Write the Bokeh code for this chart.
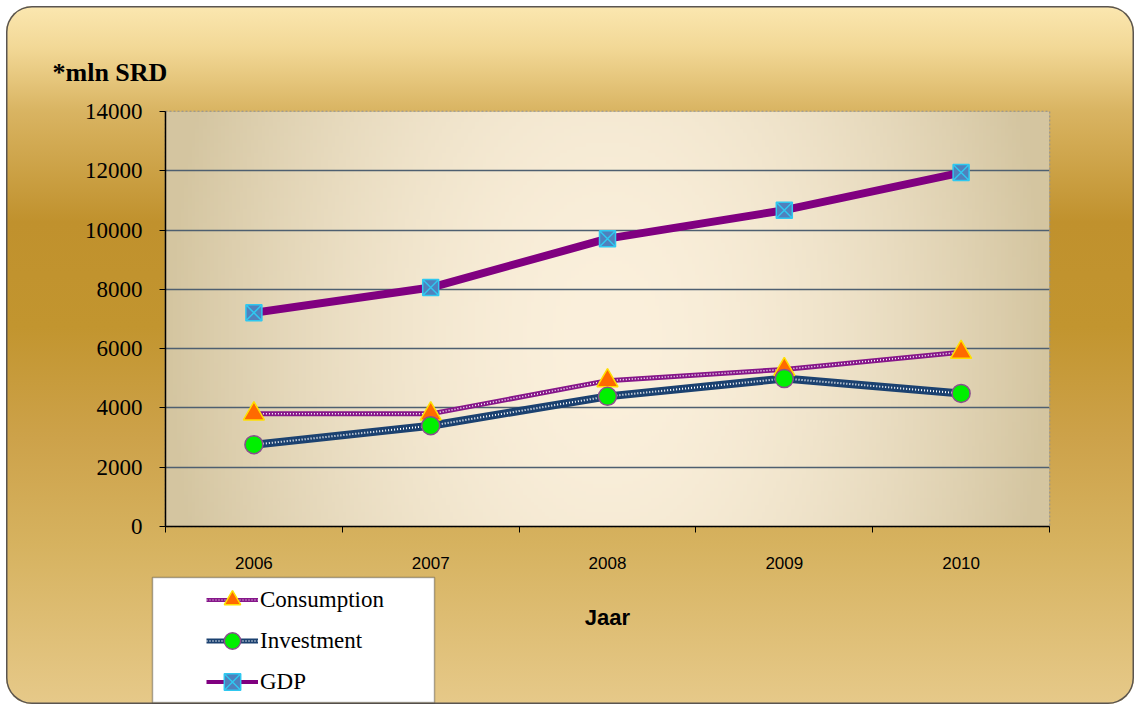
import numpy as np
from bokeh.plotting import figure
from bokeh.layouts import column
from bokeh.models import (FixedTicker, Legend, LegendItem, Label, BoxAnnotation, Title)
from bokeh.embed import file_html
from bokeh.resources import INLINE

years = ["2006", "2007", "2008", "2009", "2010"]
consumption = [3800, 3800, 4920, 5300, 5880]
investment = [2760, 3400, 4390, 4990, 4490]
gdp = [7210, 8060, 9710, 10670, 11940]
y_ticks = [0, 2000, 4000, 6000, 8000, 10000, 12000, 14000]

xs = list(range(len(years)))

W = 1128
H_MAIN, H_BOT = 569, 129

p = figure(width=W, height=H_MAIN, x_range=(-0.5, 4.5), y_range=(0, 14000),
           output_backend="svg", toolbar_location=None, title=None,
           min_border_left=159, min_border_right=85, min_border_top=105,
           min_border_bottom=49)
p.frame_align = False
p.border_fill_alpha = 0
p.background_fill_alpha = 0
p.outline_line_color = "#8c8c8c"
p.outline_line_dash = "2 2"
p.outline_line_width = 1.5

# plot area gradient background
gw, gh = 240, 120
u = np.linspace(0, 1, gw)[None, :]
v = np.linspace(0, 1, gh)[:, None]
t = np.sqrt(((u - 0.5) / 0.5) ** 2 * 1.0 + ((v - 0.45) / 0.55) ** 2 * 0.12)
t = np.clip(t, 0, 1) ** 1.8
center = np.array([251, 240, 220])
edge = np.array([212, 197, 160])
col = center[None, None, :] + (edge - center)[None, None, :] * t[:, :, None]
img = np.empty((gh, gw, 4), dtype=np.uint8)
img[:, :, :3] = np.clip(col, 0, 255).astype(np.uint8)
img[:, :, 3] = 255
p.image_rgba(image=[img.view(np.uint32).reshape(gh, gw)], x=-0.5, y=0, dw=5, dh=14000, level="image")

# grid
p.xgrid.visible = False
p.ygrid.ticker = FixedTicker(ticks=y_ticks)
p.ygrid.grid_line_color = "#4E5F70"
p.ygrid.grid_line_width = 1.5

# axes
p.yaxis.ticker = FixedTicker(ticks=y_ticks)
p.yaxis.axis_line_color = "black"
p.yaxis.axis_line_width = 1.5
p.yaxis.major_tick_out = 6
p.yaxis.major_tick_in = 0
p.yaxis.minor_tick_line_color = None
p.yaxis.major_tick_line_color = "black"
p.yaxis.major_label_text_font = "Liberation Serif"
p.yaxis.major_label_text_font_size = "23px"
p.yaxis.major_label_text_color = "black"
p.yaxis.major_label_standoff = 17

p.xaxis.ticker = FixedTicker(ticks=xs, minor_ticks=[i - 0.5 for i in range(len(years) + 1)])
p.xaxis.major_label_overrides = {i: y for i, y in enumerate(years)}
p.xaxis.axis_line_color = "black"
p.xaxis.axis_line_width = 1.5
p.xaxis.major_tick_out = 0
p.xaxis.major_tick_in = 0
p.xaxis.minor_tick_out = 6
p.xaxis.minor_tick_in = 0
p.xaxis.minor_tick_line_color = "black"
p.xaxis.major_label_text_font = "Liberation Sans"
p.xaxis.major_label_text_font_size = "17px"
p.xaxis.major_label_text_color = "black"
p.xaxis.major_label_standoff = 24

# "*mln SRD" unit title
p.add_layout(Title(text="*mln SRD", align="left", offset=-113, standoff=50,
                   text_font="Liberation Serif", text_font_size="26px",
                   text_font_style="bold", text_color="black"), "above")

# series
line_styles = dict(
    c=dict(line_color="#86168A", line_width=5),
    cd=dict(line_color="white", line_width=1.5, line_dash="1 2"),
    i=dict(line_color="#1B4170", line_width=8),
    idot=dict(line_color="white", line_width=2, line_dash="1 2"),
    g=dict(line_color="#800080", line_width=8),
)
mk_styles = dict(
    c=dict(marker="triangle", size=21, fill_color="#FF6A00", line_color="#FFE000", line_width=1.5),
    i=dict(marker="circle", size=18, fill_color="#00F000", line_color="#8A4E8E", line_width=1.5),
    g=dict(marker="square_x", size=16, fill_color="#4F81BD", line_color="#2FC8F0", line_width=1.5),
)

p.line(xs, consumption, **line_styles["c"])
p.line(xs, consumption, **line_styles["cd"])
p.line(xs, investment, **line_styles["i"])
p.line(xs, investment, **line_styles["idot"])
p.line(xs, gdp, **line_styles["g"])
p.scatter(xs, consumption, **mk_styles["c"])
p.scatter(xs, investment, **mk_styles["i"])
p.scatter(xs, gdp, **mk_styles["g"])

# bottom strip: legend and x-axis title (coordinates = pixels of this strip)
b = figure(width=W, height=H_BOT, x_range=(0, W), y_range=(0, H_BOT),
           output_backend="svg", toolbar_location=None, title=None,
           x_axis_location=None, y_axis_location=None, min_border=0)
b.frame_align = False
b.border_fill_alpha = 0
b.background_fill_alpha = 0
b.outline_line_color = None
b.grid.visible = False

b.add_layout(BoxAnnotation(left=146, right=428, top=127, bottom=2,
                           fill_color="white", fill_alpha=1, line_color="black", line_width=1.5))

# legend proxies: same series, lying far outside this strip's visible range
lc = b.line(xs, consumption, line_color="#86168A", line_width=4)
lcd = b.line(xs, consumption, line_color="white", line_width=1.2, line_dash="1 2")
li = b.line(xs, investment, line_color="#1B4170", line_width=5)
lid = b.line(xs, investment, line_color="white", line_width=1.5, line_dash="1 2")
lg = b.line(xs, gdp, line_color="#800080", line_width=4)
mc = b.scatter(xs, consumption, **mk_styles["c"])
mi = b.scatter(xs, investment, **mk_styles["i"])
mg = b.scatter(xs, gdp, **mk_styles["g"])

legend = Legend(items=[
    LegendItem(label="Consumption", renderers=[lc, lcd, mc], index=0),
    LegendItem(label="Investment", renderers=[li, lid, mi], index=0),
    LegendItem(label="GDP", renderers=[lg, mg], index=0),
], location=(200, 2), padding=0, margin=0, spacing=0,
    glyph_width=52, glyph_height=41, label_height=41, label_standoff=2,
    border_line_color=None, background_fill_alpha=0,
    label_text_font="Liberation Serif", label_text_font_size="23px",
    label_text_color="black")
b.add_layout(legend)

b.add_layout(Label(x=601, y=87, text="Jaar", text_font="Liberation Sans",
                   text_font_size="22px", text_font_style="bold", text_color="black",
                   text_baseline="middle", text_align="center"))

layout = column(p, b, spacing=0, styles={
    "margin-left": "6px", "margin-top": "6px",
    "border-radius": "26px",
    "background": "linear-gradient(to bottom, #FBE7B0 0%, #F2D896 6%, #D9B462 15%, "
                  "#C0912D 31%, #C2952F 46%, #CDA24A 62%, #D6B25F 77%, #E6C989 100%)",
    "box-shadow": "inset 0 0 0 1.5px #5a5550",
})

open("out.html", "w").write(file_html(layout, INLINE))
